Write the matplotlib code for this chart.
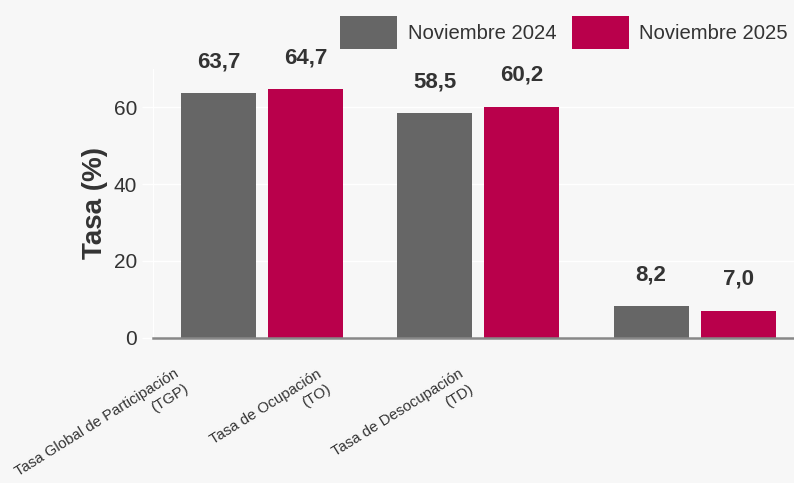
import numpy as np
import matplotlib
matplotlib.use("Agg")
import matplotlib.pyplot as plt
import matplotlib.transforms as mtransforms


# datos
categorias = [
    "Tasa Global de Participación\n(TGP)",
    "Tasa de Ocupación\n(TO)",
    "Tasa de Desocupación\n(TD)",
]
nov_2024 = [63.7, 58.5, 8.2]
nov_2025 = [64.7, 60.2, 7.0]
series = ["Noviembre 2024", "Noviembre 2025"]
y_ticks = [0, 20, 40, 60]

fondo = "#f7f7f7"
gris = "#666666"
rojo = "#b9004b"
texto = "#333333"

plt.rcParams["font.family"] = ["Liberation Sans", "DejaVu Sans"]

fig = plt.figure(figsize=(7.94, 4.83), dpi=100, facecolor=fondo)
ax = fig.add_axes([153 / 794, 1 - 337.5 / 483, 641 / 794, 268.5 / 483])
ax.set_facecolor(fondo)

x = np.arange(len(categorias))
ancho = 0.347
desp = 0.2014

b1 = ax.bar(x - desp, nov_2024, ancho, color=gris, label=series[0], zorder=3)
b2 = ax.bar(x + desp, nov_2025, ancho, color=rojo, label=series[1], zorder=3)

for barras in (b1, b2):
    for r in barras:
        v = r.get_height()
        ax.annotate(
            f"{v:.1f}".replace(".", ","),
            (r.get_x() + r.get_width() / 2, v),
            xytext=(0, 18.5), textcoords="offset points",
            ha="center", va="baseline",
            fontsize=16, fontweight="bold", color=texto,
        )

ax.set_xlim(-0.505, 2.46)
ax.set_ylim(0, 70)
ax.set_yticks(y_ticks)
ax.tick_params(axis="y", length=8, width=1, color="white", pad=3.5,
               labelsize=15, labelcolor=texto)
ax.yaxis.get_major_ticks()[0].tick1line.set_color("#888888")
ax.grid(axis="y", color="white", lw=1, zorder=0)

for s in ["top", "right"]:
    ax.spines[s].set_visible(False)
ax.spines["left"].set_color("white")
ax.spines["bottom"].set_color("#888888")
ax.spines["bottom"].set_linewidth(1.8)
ax.spines["bottom"].set_zorder(4)

ax.set_ylabel("Tasa (%)", fontweight="bold", fontsize=20, color=texto)
ax.yaxis.set_label_coords(-0.07, 0.5)

ax.set_xticks(x)
ax.set_xticklabels(categorias, rotation=32, ha="right", va="top",
                   rotation_mode="anchor", fontsize=10.8, color=texto,
                   multialignment="right", linespacing=1.35)
ax.tick_params(axis="x", length=0, pad=21)

# las etiquetas del eje x quedan corridas a la izquierda
corrimientos = [-88, -162, -236]
for lab, dx in zip(ax.get_xticklabels(), corrimientos):
    off = mtransforms.ScaledTranslation(dx / 100, 0, fig.dpi_scale_trans)
    lab.set_transform(lab.get_transform() + off)

fig.legend(
    loc="upper left", bbox_to_anchor=(340 / 794, 1 - 16 / 483),
    ncol=2, frameon=False, fontsize=14.6, handlelength=2.81,
    handleheight=2.1, handletextpad=0.54, columnspacing=0.74,
    borderpad=0, borderaxespad=0, labelcolor=texto,
)

fig.savefig("out.png", dpi=100, facecolor=fondo)
